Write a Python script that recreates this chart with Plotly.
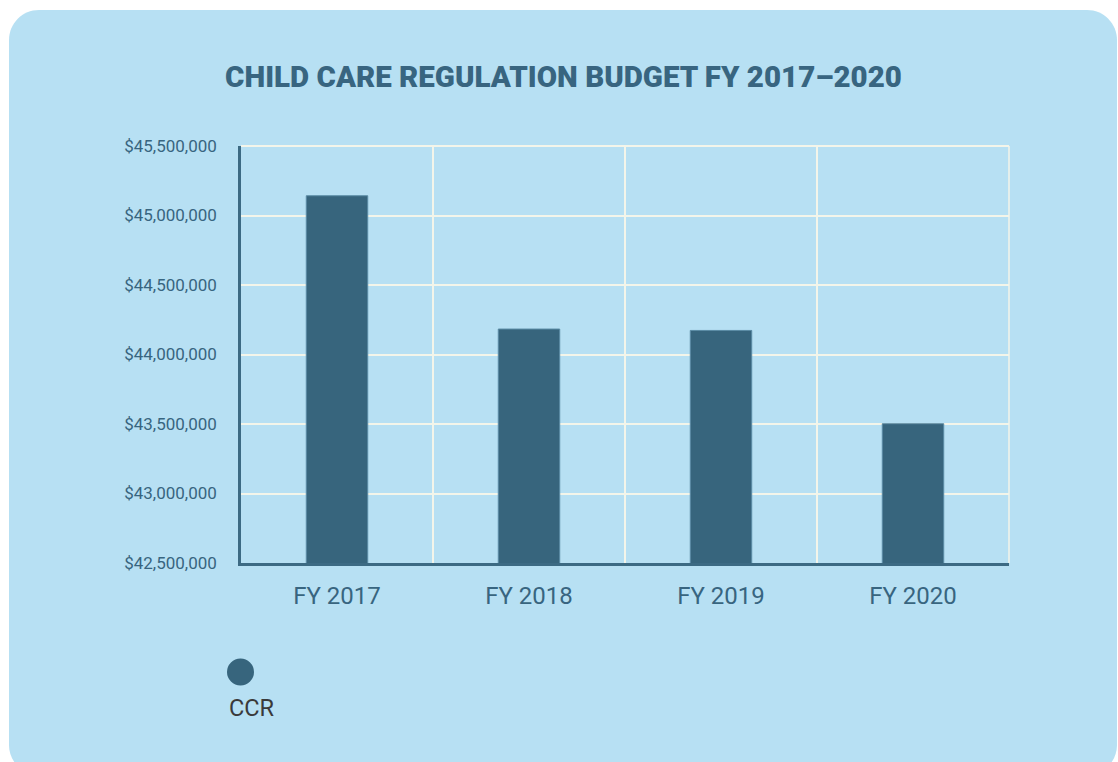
import plotly.graph_objects as go

# Budget data
fiscal_years = ["FY 2017", "FY 2018", "FY 2019", "FY 2020"]
ccr_budget = [45142000, 44183000, 44173000, 43502000]
series_name = "CCR"
chart_title = "CHILD CARE REGULATION BUDGET FY 2017\u20132020"
y_ticks = [42500000, 43000000, 43500000, 44000000, 44500000, 45000000, 45500000]
y_tick_text = ["${:,.0f}".format(v) for v in y_ticks]

W, H = 1118, 762
L, R, T, B = 241, 1009, 146, 563  # plot area in pixels

CARD = "#b7e0f3"
DARK = "#37657d"
GRID = "#f3f5ea"


def px(x):
    return (x - L) / (R - L)


def py(y):
    return (B - y) / (B - T)


def rounded_rect(x0, y0, x1, y1, r):
    k = 0.5523 * r
    pts = [
        f"M {px(x0 + r)} {py(y0)}",
        f"L {px(x1 - r)} {py(y0)}",
        f"C {px(x1 - r + k)} {py(y0)} {px(x1)} {py(y0 + r - k)} {px(x1)} {py(y0 + r)}",
        f"L {px(x1)} {py(y1 - r)}",
        f"C {px(x1)} {py(y1 - r + k)} {px(x1 - r + k)} {py(y1)} {px(x1 - r)} {py(y1)}",
        f"L {px(x0 + r)} {py(y1)}",
        f"C {px(x0 + r - k)} {py(y1)} {px(x0)} {py(y1 - r + k)} {px(x0)} {py(y1 - r)}",
        f"L {px(x0)} {py(y0 + r)}",
        f"C {px(x0)} {py(y0 + r - k)} {px(x0 + r - k)} {py(y0)} {px(x0 + r)} {py(y0)}",
        "Z",
    ]
    return " ".join(pts)


fig = go.Figure()
fig.add_trace(go.Bar(
    x=fiscal_years,
    y=ccr_budget,
    name=series_name,
    marker=dict(color=DARK, line=dict(color="#5a8ba4", width=1)),
    width=0.32,
    showlegend=False,
))

fig.update_layout(
    width=W,
    height=H,
    margin=dict(l=L, r=W - R, t=T, b=H - B, pad=0),
    paper_bgcolor="white",
    plot_bgcolor="rgba(0,0,0,0)",
    title=dict(
        text=chart_title,
        font=dict(family="Roboto", size=29.5, color="#386580", weight=900),
        x=563.5 / W, xanchor="center", xref="container",
        y=1 - 77 / H, yanchor="middle", yref="container",
    ),
    xaxis=dict(
        type="category",
        tickson="boundaries",
        showgrid=True,
        gridcolor=GRID,
        gridwidth=1.5,
        showline=True,
        linecolor="#3c6a83",
        linewidth=2.5,
        ticks="",
        tickfont=dict(family="Roboto", size=24, color="#386580"),
        ticklabelstandoff=9,
        range=[-0.5, 3.5],
        zeroline=False,
    ),
    yaxis=dict(
        range=[42500000, 45500000],
        tickvals=y_ticks,
        ticktext=y_tick_text,
        showgrid=True,
        gridcolor=GRID,
        gridwidth=2,
        showline=True,
        linecolor="#3c6a83",
        linewidth=2.5,
        ticks="",
        tickfont=dict(family="Roboto", size=17, color="#386580"),
        ticklabelstandoff=18,
        zeroline=False,
    ),
    shapes=[
        dict(type="path", xref="paper", yref="paper",
             path=rounded_rect(9, 10, 1117, 775, 30),
             fillcolor=CARD, line=dict(width=0), layer="below"),
        # frame lines along the top and right edges of the plot area
        dict(type="line", xref="paper", yref="paper", x0=0, x1=1, y0=1, y1=1,
             line=dict(color=GRID, width=2), layer="below"),
        dict(type="line", xref="paper", yref="paper", x0=1, x1=1, y0=0, y1=1,
             line=dict(color=GRID, width=1.5), layer="below"),
        dict(type="circle", xref="paper", yref="paper",
             x0=px(240.5 - 13.5), x1=px(240.5 + 13.5),
             y0=py(672 + 13.5), y1=py(672 - 13.5),
             fillcolor=DARK, line=dict(width=0)),
    ],
    annotations=[
        dict(text=series_name, xref="paper", yref="paper",
             x=px(227), y=py(708), xanchor="left", yanchor="middle",
             showarrow=False,
             font=dict(family="Roboto", size=23.5, color="#3a3a3a")),
    ],
)

fig.write_html("out.html")
